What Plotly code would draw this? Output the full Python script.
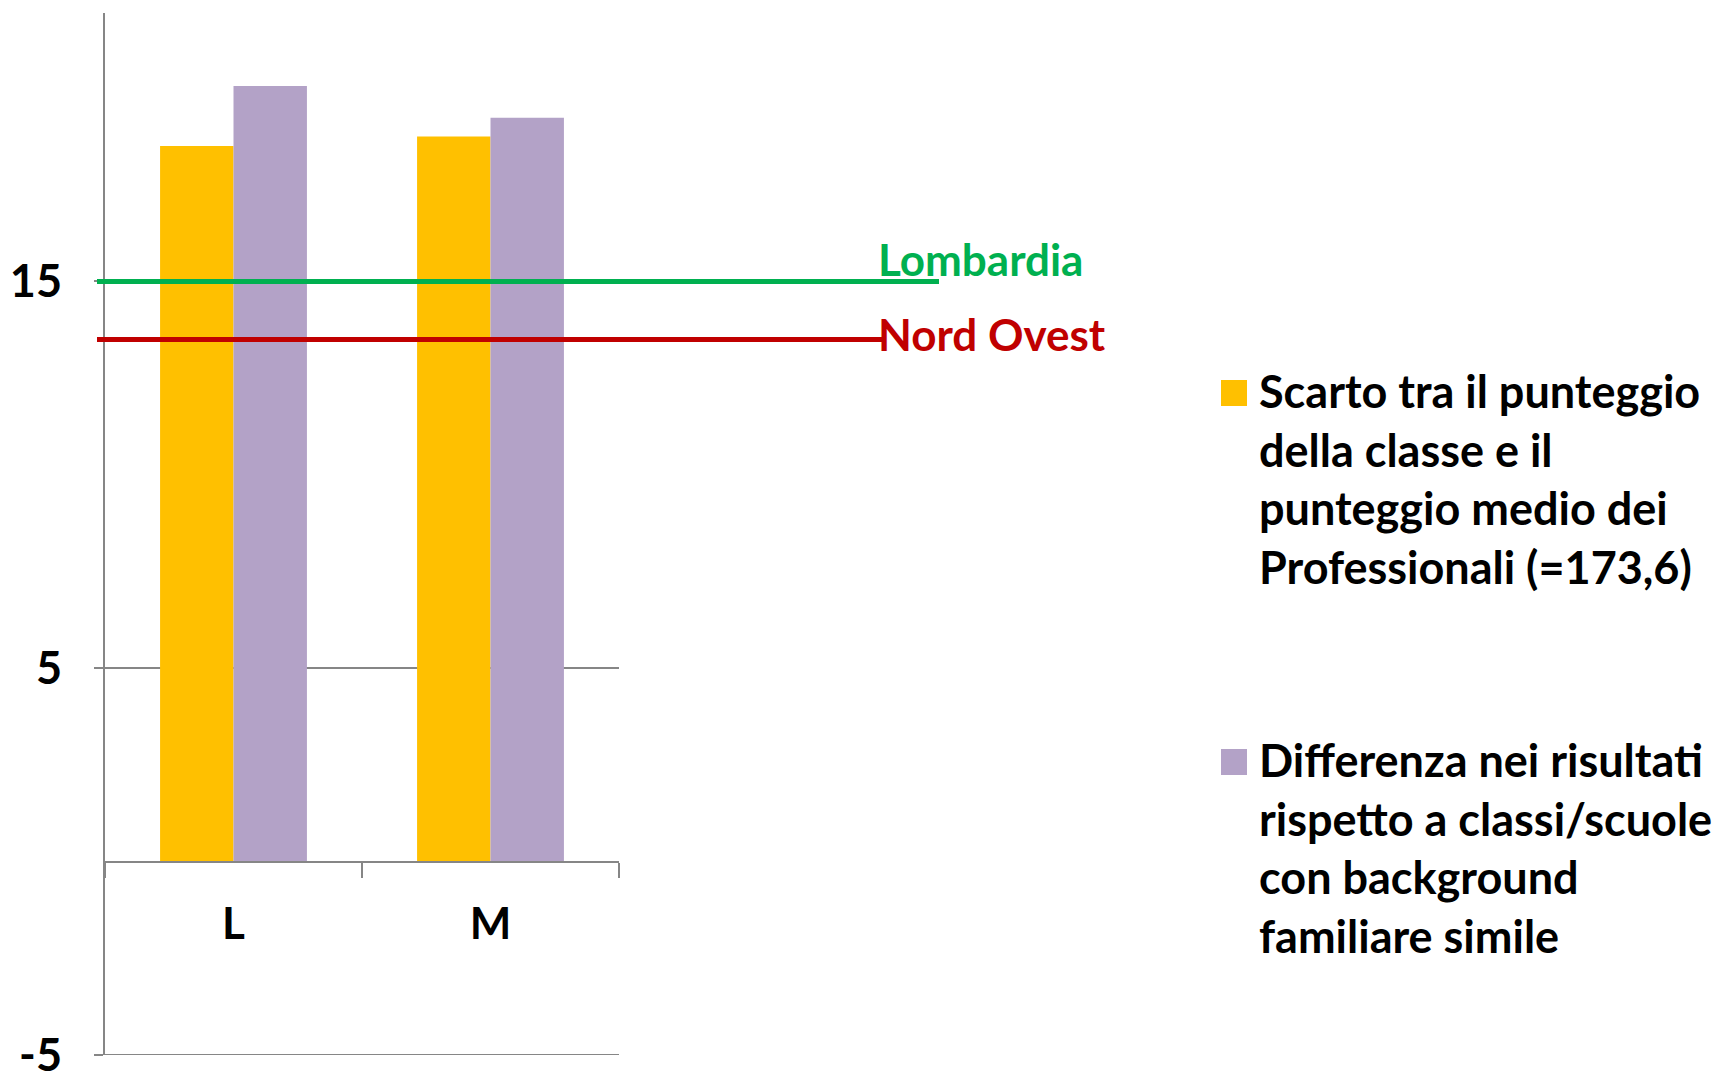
import plotly.graph_objects as go

# Categories and series
categories = ["L", "M"]
scarto = [18.5, 18.75]          # Scarto tra il punteggio della classe e il punteggio medio dei Professionali
differenza = [20.05, 19.23]     # Differenza nei risultati rispetto a classi/scuole con background simile

# Reference levels
ref_names = ["Lombardia", "Nord Ovest"]
ref_values = [15.0, 13.5]

series_names = [
    "Scarto tra il punteggio<br>della classe e il<br>punteggio medio dei<br>Professionali (=173,6)",
    "Differenza nei risultati<br>rispetto a classi/scuole<br>con background<br>familiare simile",
]

y_ticks = [-5, 5, 15]
y_tick_text = ["-5", "5", "15"]
y_range = [-5, 21.94]

W, H = 1723, 1071
ML, MR, MT, MB = 105, 1104, 13, 16
PW = W - ML - MR
PH = H - MT - MB

FONT = "Lato"
YELLOW = "#FFC000"
PURPLE = "#B3A2C7"
GREEN = "#00B050"
RED = "#C00000"
GREY = "#868686"


def px_x(x):
    return (x - ML) / PW


def px_y(y):
    return 1 - (y - MT) / PH


fig = go.Figure()
fig.add_trace(go.Bar(x=categories, y=scarto, name=series_names[0],
                     marker=dict(color=YELLOW, line=dict(width=0)), showlegend=False))
fig.add_trace(go.Bar(x=categories, y=differenza, name=series_names[1],
                     marker=dict(color=PURPLE, line=dict(width=0)), showlegend=False))

zero_pos = (0 - y_range[0]) / (y_range[1] - y_range[0])

fig.update_layout(
    width=W, height=H,
    margin=dict(l=ML, r=MR, t=MT, b=MB, autoexpand=False),
    paper_bgcolor="white", plot_bgcolor="white",
    barmode="group", bargap=1.5 / 3.5, bargroupgap=0,
    font=dict(family=FONT, color="black", size=44, weight="bold"),
    xaxis=dict(
        type="category", range=[-0.5, 1.5],
        anchor="free", position=zero_pos,
        showline=True, linecolor=GREY, linewidth=2,
        ticks="outside", tickson="boundaries", ticklen=15, tickwidth=2, tickcolor=GREY,
        showgrid=False, ticklabelstandoff=24,
        tickfont=dict(family=FONT, size=44, color="black", weight="bold"),
    ),
    yaxis=dict(
        range=y_range, tickvals=y_ticks, ticktext=y_tick_text,
        showline=True, linecolor=GREY, linewidth=2,
        ticks="outside", ticklen=9, tickwidth=2, tickcolor=GREY,
        showgrid=True, gridcolor=GREY, gridwidth=2, zeroline=False,
        ticklabelstandoff=23, ticklabeloverflow="allow",
        tickfont=dict(family=FONT, size=45, color="black", weight="bold"),
    ),
)

# Bottom boundary line at the lowest tick
fig.add_shape(type="line", xref="paper", yref="y", x0=px_x(97), x1=1, y0=y_range[0], y1=y_range[0],
              line=dict(color=GREY, width=2), layer="below")

# Reference lines with their labels
ref_colors = [GREEN, RED]
ref_ends = [939, 882]
ref_shift = [22, 5]
for name, val, col, end, sh in zip(ref_names, ref_values, ref_colors, ref_ends, ref_shift):
    fig.add_shape(type="line", xref="paper", yref="y", x0=px_x(97), x1=px_x(end), y0=val, y1=val,
                  line=dict(color=col, width=5), layer="above")
    fig.add_annotation(xref="paper", yref="y", x=px_x(876), y=val, yshift=sh,
                       text=name, showarrow=False, xanchor="left", yanchor="middle",
                       font=dict(family=FONT, size=44, color=col, weight="bold"))

# Legend drawn as colour squares and wrapped text
legend_colors = [YELLOW, PURPLE]
legend_tops = [380, 749]
for name, col, top in zip(series_names, legend_colors, legend_tops):
    fig.add_shape(type="rect", xref="paper", yref="paper",
                  x0=px_x(1221), x1=px_x(1247), y0=px_y(top), y1=px_y(top + 26),
                  fillcolor=col, line=dict(width=0))
    fig.add_annotation(xref="paper", yref="paper", x=px_x(1257), y=px_y(top - 18),
                       text=name, showarrow=False, xanchor="left", yanchor="top", align="left",
                       font=dict(family=FONT, size=45, color="black", weight="bold"))

fig.write_html("out.html")
